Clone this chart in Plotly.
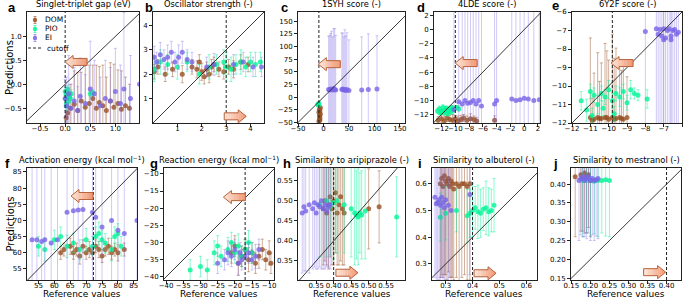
import plotly.graph_objects as go

# ---------------- data ----------------
TITLES = ["Singlet-triplet gap (eV)", "Oscillator strength (-)", "1SYH score (-)", "4LDE score (-)",
          "6Y2F score (-)", "Activation energy (kcal mol<sup>−1</sup>)", "Reaction energy (kcal mol<sup>−1</sup>)",
          "Similarity to aripiprazole (-)", "Similarity to albuterol (-)", "Similarity to mestranol (-)"]
LETTERS = ["a", "b", "c", "d", "e", "f", "g", "h", "i", "j"]
CUTOFFS = [0.0, 3.0, -9.0, -10.0, -9.8, 72.3, -17.0, 0.40, 0.40, 0.40]
SERIES = ["DOM", "PIO", "EI"]

# a
A_DOM_X = [0.02, 0.05, 0.1, 0.18, 0.25, 0.32, 0.4, 0.48, 0.55, 0.62, 0.68, 0.75, 0.82, 0.9, 0.97, 1.05, 1.12, 1.2, 1.28]
A_DOM_Y = [-0.7, -0.6, -0.5, -0.42, -0.55, -0.35, -0.48, -0.4, -0.3, -0.5, -0.38, -0.45, -0.55, -0.35, -0.48, -0.4, -0.52, -0.45, -0.5]
A_DOM_E = [0.15, 0.3, 0.5, 0.7, 0.8, 0.6, 0.9, 0.8, 0.7, 0.9, 0.75, 0.85, 0.7, 0.8, 0.9, 0.7, 0.8, 0.6, 0.5]
A_PIO_X = [0.0, 0.01, 0.02, 0.03, 0.04, 0.05, 0.06, 0.08, 0.1, 0.12, 0.02, 0.05, 0.5, 0.55]
A_PIO_Y = [-0.15, -0.3, -0.22, -0.4, -0.28, -0.18, -0.35, -0.25, -0.3, -0.2, -0.45, -0.1, -0.2, -0.18]
A_PIO_E = [0.08, 0.1, 0.08, 0.1, 0.09, 0.08, 0.1, 0.08, 0.09, 0.08, 0.1, 0.08, 0.06, 0.06]
A_EI_X = [0.0, 0.03, 0.07, 0.12, 0.18, 0.25, 0.3, 0.4, 0.5, 0.58, 0.7, 0.8, 0.9, 1.0, 1.1, 1.17, 1.3, 1.48]
A_EI_Y = [-0.3, -0.45, -0.2, -0.5, -0.35, -0.55, -0.25, -0.4, -0.1, -0.2, -0.45, -0.3, -0.35, -0.15, -0.4, -0.1, -0.3, 0.0]
A_EI_E = [0.4, 0.6, 0.8, 0.5, 0.7, 0.5, 0.8, 0.6, 1.0, 0.7, 0.6, 0.8, 0.7, 0.9, 0.8, 1.6, 0.9, 1.3]

# b
B_DOM_X = [0.05, 0.2, 0.5, 0.8, 1.2, 1.6, 1.8, 1.9, 2.0, 2.1, 2.2, 2.3, 2.4, 2.5, 2.7, 2.9, 3.1, 3.3, 3.6, 3.9]
B_DOM_Y = [2.1, 2.3, 2.0, 2.2, 2.0, 2.3, 2.2, 2.5, 2.1, 1.9, 2.2, 2.0, 2.3, 2.4, 2.2, 2.1, 2.3, 2.2, 2.5, 2.4]
B_DOM_E = [0.3, 0.3, 0.3, 0.3, 0.35, 0.3, 0.35, 0.3, 0.35, 0.3, 0.3, 0.35, 0.3, 0.3, 0.3, 0.3, 0.3, 0.35, 0.3, 0.3]
B_PIO_X = [0.05, 0.3, 0.6, 1.0, 1.4, 1.9, 2.3, 2.6, 2.9, 3.0, 3.2, 3.4, 3.6, 3.8, 4.0, 4.2, 4.4]
B_PIO_Y = [2.2, 2.5, 2.4, 2.3, 2.5, 2.0, 2.3, 2.4, 2.5, 2.3, 2.2, 2.4, 2.5, 2.3, 2.5, 2.4, 2.5]
B_PIO_E = [0.5, 0.5, 0.4, 0.5, 0.4, 0.4, 0.5, 0.4, 0.5, 0.6, 0.5, 0.4, 0.5, 0.4, 0.4, 0.5, 0.4]
B_EI_X = [0.05, 0.15, 0.3, 0.45, 0.6, 0.75, 0.9, 1.05, 1.2, 1.4, 1.6, 2.2, 2.5, 3.3, 3.7, 4.1, 4.45]
B_EI_Y = [2.7, 2.5, 2.8, 2.6, 2.7, 2.9, 2.5, 2.7, 2.9, 2.6, 2.5, 2.3, 2.4, 2.4, 2.5, 2.3, 2.3]
B_EI_E = [0.45, 0.4, 0.5, 0.4, 0.5, 0.45, 0.4, 0.5, 0.45, 0.4, 0.4, 0.4, 0.45, 0.4, 0.4, 0.4, 0.4]

# c
C_DOM_X = [-9, -8, -7, -8, -6, -9, -7, -8, -6, -7]
C_DOM_Y = [-48, -44, -40, -36, -33, -30, -27, -24, -21, -45]
C_DOM_E = [3, 3, 3, 3, 4, 3, 3, 4, 4, 3]
C_PIO_X = [-11, -9, -10]
C_PIO_Y = [-14, -12, -16]
C_PIO_E = [2, 2, 2]
C_EI_X = [10, 12, 14, 16, 18, 20, 22, 24, 36, 38, 40, 42, 44, 46, 50, 75, 88, 105]
C_EI_Y = [15, 14, 16, 15, 14, 17, 15, 14, 15, 16, 14, 15, 13, 15, 13, 14, 15, 16]
C_EI_E = [105, 108, 110, 115, 105, 118, 120, 108, 112, 110, 105, 118, 108, 112, 100, 105, 110, 105]

# d
D_DOM_X = [-12.5, -12.0, -11.6, -11.2, -10.8, -10.4, -10.0, -9.6, -9.2, -8.8, -8.3, -7.8, -7.3, -6.9, -4.3]
D_DOM_Y = [-12.8, -12.6, -12.9, -12.5, -12.7, -12.8, -12.6, -12.9, -12.7, -12.5, -12.8, -12.6, -12.7, -12.9, -12.8]
D_DOM_E = [0.5, 0.6, 0.7, 0.5, 0.6, 0.8, 0.5, 0.7, 0.6, 0.5, 0.6, 0.7, 0.5, 0.5, 0.6]
D_PIO_X = [-12.6, -12.3, -12.0, -11.8, -11.5, -11.3, -11.0, -10.8, -10.5, -10.2, -12.2, -11.6, -11.1, -10.6, -9.8, -9.5]
D_PIO_Y = [-11.5, -11.2, -11.6, -11.0, -11.4, -11.1, -11.5, -11.2, -11.0, -11.3, -11.8, -11.7, -11.9, -11.6, -11.0, -11.2]
D_PIO_E = [0.4, 0.4, 0.3, 0.4, 0.4, 0.3, 0.4, 0.4, 0.3, 0.4, 0.3, 0.4, 0.3, 0.4, 0.3, 0.4]
D_EI_X = [-10.2, -9.5, -9.0, -8.6, -8.2, -7.8, -7.4, -7.0, -6.6, -6.2, -4.3, -4.0, -1.8, -1.2, -0.6, 0.0, 0.6, 1.4, 2.2]
D_EI_Y = [-11.3, -10.2, -10.5, -10.0, -10.4, -10.3, -10.0, -10.5, -10.0, -10.8, -10.5, -10.0, -9.8, -10.0, -9.9, -9.7, -9.8, -10.0, -9.9]
D_EI_E = [15, 16, 14, 15, 16, 15, 14, 16, 15, 14, 15, 16, 15, 14, 15, 16, 15, 14, 15]

# e
E_DOM_X = [-11.0, -10.8, -10.6, -10.4, -10.2, -10.0, -9.8, -9.6, -9.4, -9.2, -9.0, -10.9, -10.5, -10.1, -9.7, -9.3]
E_DOM_Y = [-11.7, -11.8, -11.7, -11.75, -11.7, -11.8, -11.7, -11.75, -11.7, -11.8, -11.7, -11.85, -11.75, -11.7, -11.8, -11.75]
E_DOM_E = [4.3, 2.5, 3.5, 3.0, 4.0, 3.2, 4.5, 3.8, 2.8, 3.0, 2.2, 1.2, 2.0, 3.6, 3.3, 2.6]
E_PIO_X = [-11.5, -11.2, -11.0, -10.8, -10.6, -10.4, -10.2, -10.0, -9.8, -9.6, -9.4, -9.2, -9.0, -8.8, -8.6, -8.4, -7.9, -10.9, -10.3, -9.7]
E_PIO_Y = [-10.8, -11.3, -10.3, -10.5, -11.0, -10.4, -10.6, -10.2, -10.8, -10.4, -10.6, -10.3, -10.9, -10.2, -10.4, -10.5, -10.7, -11.6, -11.2, -11.5]
E_PIO_E = [0.5, 0.6, 0.4, 0.4, 0.5, 0.4, 0.4, 0.5, 0.4, 0.4, 0.5, 0.4, 0.4, 0.5, 0.3, 0.3, 0.5, 0.4, 0.4, 0.4]
E_EI_X = [-8.0, -7.4, -7.3, -7.2, -7.1, -7.0, -6.9, -6.8, -6.7, -6.6, -6.5, -6.4, -6.3, -6.2, -7.0, -6.6]
E_EI_Y = [-7.05, -6.9, -7.2, -6.95, -7.3, -6.9, -7.4, -7.0, -6.9, -7.5, -7.0, -6.95, -7.2, -7.1, -7.5, -7.3]
E_EI_E = [6, 6, 6, 6, 6, 6, 6, 6, 6, 6, 6, 6, 6, 6, 6, 6]

# f
F_DOM_X = [62, 63, 65, 66, 67, 68, 69, 70, 71, 72, 73, 74, 75, 76, 77, 78, 79, 80, 82]
F_DOM_Y = [60, 61, 62, 60, 61, 59, 62, 60, 61, 60, 62, 61, 59, 61, 62, 60, 61, 60, 61]
F_DOM_E = [2, 2, 2.5, 2, 2, 2.5, 2, 2, 2.5, 2, 2, 2.5, 2, 2, 2.5, 2, 2, 2.5, 2]
F_PIO_X = [55, 57, 60, 62, 64, 66, 68, 70, 72, 73, 74, 75, 76, 78, 79, 80, 81]
F_PIO_Y = [62, 61, 64, 65, 62, 63, 61, 64, 62, 65, 66, 64, 63, 61, 65, 66, 62]
F_PIO_E = [3, 3.5, 3, 3, 3.5, 3, 3, 3.5, 3, 3, 3.5, 3, 3, 3.5, 3, 3, 3]
F_EI_X = [53, 54.5, 56, 57, 59, 61, 64, 66, 67.5, 69, 72, 73, 75, 78, 80, 82, 86]
F_EI_Y = [64, 64, 63.5, 64, 63, 64, 72.5, 73, 73.2, 73.4, 72.5, 71, 68, 70, 67, 66, 70]
F_EI_E = [30, 30, 30, 30, 30, 30, 30, 30, 30, 30, 30, 30, 30, 30, 30, 30, 30]

# g
G_DOM_X = [-21, -20, -19, -18, -17, -16, -15, -14, -13, -12, -11, -10, -9.5]
G_DOM_Y = [-33, -31, -36, -34, -32, -35, -33, -36, -34, -32, -35, -33, -36]
G_DOM_E = [3, 3, 3.5, 3, 3, 3.5, 3, 3, 3.5, 3, 3, 3.5, 3]
G_PIO_X = [-33, -30, -28, -26, -25, -24, -22, -21, -20, -19, -18, -17, -16, -15]
G_PIO_Y = [-38, -37, -38, -33, -31, -34, -32, -30, -33, -31, -34, -32, -30, -33]
G_PIO_E = [3, 3, 3, 3.5, 3, 3, 3.5, 3, 3, 3.5, 3, 3, 3.5, 3]
G_EI_X = [-25, -23, -22, -21, -20, -19, -18.5, -18, -17, -16, -15, -14, -13]
G_EI_Y = [-36, -35, -33, -34, -32, -36, -33, -35, -34, -33, -35, -34, -32]
G_EI_E = [3, 3, 3.5, 3, 3, 3.5, 3, 3, 3.5, 3, 3, 3.5, 3]

# h
H_DOM_X = [0.37, 0.375, 0.38, 0.385, 0.39, 0.395, 0.40, 0.405, 0.41, 0.415, 0.42, 0.425, 0.43, 0.50, 0.53]
H_DOM_Y = [0.48, 0.5, 0.47, 0.49, 0.51, 0.48, 0.5, 0.52, 0.47, 0.49, 0.51, 0.48, 0.47, 0.48, 0.485]
H_DOM_E = [0.14, 0.15, 0.13, 0.16, 0.15, 0.14, 0.16, 0.15, 0.13, 0.15, 0.16, 0.14, 0.13, 0.1, 0.09]
H_PIO_X = [0.36, 0.38, 0.39, 0.40, 0.41, 0.43, 0.45, 0.46, 0.465, 0.47, 0.475, 0.48, 0.49, 0.58]
H_PIO_Y = [0.49, 0.5, 0.485, 0.495, 0.5, 0.49, 0.48, 0.47, 0.465, 0.46, 0.47, 0.465, 0.475, 0.46]
H_PIO_E = [0.13, 0.14, 0.12, 0.14, 0.13, 0.12, 0.12, 0.13, 0.11, 0.12, 0.1, 0.11, 0.12, 0.1]
H_EI_X = [0.31, 0.315, 0.32, 0.33, 0.34, 0.345, 0.35, 0.355, 0.36, 0.365, 0.37, 0.375, 0.38, 0.385, 0.39]
H_EI_Y = [0.47, 0.485, 0.475, 0.49, 0.48, 0.495, 0.47, 0.49, 0.485, 0.5, 0.48, 0.49, 0.475, 0.485, 0.49]
H_EI_E = [0.15, 0.16, 0.15, 0.17, 0.15, 0.16, 0.14, 0.16, 0.15, 0.17, 0.15, 0.16, 0.14, 0.15, 0.16]

# i
I_DOM_X = [0.28, 0.285, 0.29, 0.295, 0.3, 0.305, 0.31, 0.315, 0.32, 0.325, 0.33, 0.34, 0.35, 0.36, 0.37, 0.38, 0.39]
I_DOM_Y = [0.6, 0.62, 0.59, 0.63, 0.61, 0.6, 0.62, 0.59, 0.61, 0.6, 0.58, 0.6, 0.59, 0.6, 0.6, 0.59, 0.6]
I_DOM_E = [0.35, 0.36, 0.34, 0.37, 0.35, 0.36, 0.35, 0.34, 0.36, 0.35, 0.34, 0.35, 0.36, 0.35, 0.34, 0.35, 0.36]
I_PIO_X = [0.28, 0.3, 0.34, 0.38, 0.39, 0.4, 0.41, 0.42, 0.43, 0.44, 0.45, 0.46, 0.47, 0.48]
I_PIO_Y = [0.475, 0.49, 0.5, 0.48, 0.49, 0.5, 0.51, 0.495, 0.49, 0.505, 0.51, 0.495, 0.5, 0.52]
I_PIO_E = [0.09, 0.1, 0.08, 0.1, 0.09, 0.1, 0.08, 0.1, 0.09, 0.08, 0.1, 0.09, 0.08, 0.1]
I_EI_X = [0.26, 0.265, 0.27, 0.275, 0.28, 0.285, 0.29, 0.295, 0.3, 0.31, 0.32, 0.39]
I_EI_Y = [0.55, 0.525, 0.53, 0.54, 0.52, 0.55, 0.53, 0.51, 0.54, 0.52, 0.5, 0.56]
I_EI_E = [0.3, 0.3, 0.3, 0.3, 0.3, 0.3, 0.3, 0.3, 0.3, 0.3, 0.3, 0.3]

# j
J_DOM_X = [0.16, 0.175, 0.18, 0.185, 0.19, 0.195, 0.2]
J_DOM_Y = [0.42, 0.425, 0.415, 0.43, 0.42, 0.425, 0.41]
J_DOM_E = [0.16, 0.15, 0.14, 0.16, 0.15, 0.14, 0.15]
J_PIO_X = [0.18, 0.19, 0.2, 0.21, 0.22, 0.23, 0.24, 0.25]
J_PIO_Y = [0.41, 0.41, 0.412, 0.408, 0.41, 0.41, 0.412, 0.41]
J_PIO_E = [0.15, 0.14, 0.15, 0.14, 0.15, 0.14, 0.15, 0.15]
J_EI_X = [0.17, 0.175, 0.18, 0.185, 0.19, 0.195, 0.2, 0.205, 0.21, 0.215, 0.22]
J_EI_Y = [0.41, 0.415, 0.42, 0.41, 0.415, 0.42, 0.41, 0.415, 0.41, 0.412, 0.415]
J_EI_E = [0.16, 0.15, 0.16, 0.15, 0.16, 0.15, 0.16, 0.15, 0.16, 0.15, 0.16]

# tick values per panel
XTICKS = [[-0.5, 0.0, 0.5, 1.0], [1, 2, 3, 4], [-50, 0, 50, 100, 150], [-12, -10, -8, -6, -4, -2, 0, 2],
          [-12, -11, -10, -9, -8, -7, -6], [55, 60, 65, 70, 75, 80, 85], [-40, -35, -30, -25, -20, -15, -10],
          [0.35, 0.40, 0.45, 0.50, 0.55], [0.3, 0.4, 0.5, 0.6], [0.15, 0.20, 0.25, 0.30, 0.35, 0.40]]
YTICKS = [[-0.5, 0.0, 0.5, 1.0], [1, 2, 3, 4], [-50, -25, 0, 25, 50, 75, 100, 125, 150],
          [-12, -10, -8, -6, -4, -2, 0, 2], [-12, -11, -10, -9, -8, -7, -6], [55, 60, 65, 70, 75, 80, 85],
          [-40, -35, -30, -25, -20, -15, -10], [0.35, 0.40, 0.45, 0.50, 0.55], [0.3, 0.4, 0.5, 0.6],
          [0.15, 0.20, 0.25, 0.30, 0.35, 0.40]]
TICKFMT = [".1f", "d", "d", "d", "d", "d", "d", ".2f", ".1f", ".2f"]

# ---------------- layout constants ----------------
W, H = 685, 298
BOX = [(27, 139, 12, 123), (153, 264, 12, 123), (298, 405, 12, 123), (434, 540, 12, 123), (572, 682, 12, 123),
       (27, 137, 168, 280), (164, 274, 168, 280), (298, 405, 168, 280), (432, 537, 168, 280), (571, 681, 168, 280)]
XR = [(-0.76, 1.47), (0, 4.55), (-50, 160), (-13.1, 2.3), (-12, -6), (51.4, 86), (-40.6, -8.6),
      (0.298, 0.604), (0.249, 0.640), (0.149, 0.438)]
YR = [(-0.81, 1.51), (0, 4.55), (-51, 168), (-13.2, 2.5), (-12, -6), (51.6, 86.2), (-40.9, -8.3),
      (0.3025, 0.582), (0.240, 0.659), (0.145, 0.443)]
# arrows: (tip x domain, y domain, direction -1 = points left, 1 = points right)
ARROWS = [(0.34, 0.55, -1), (0.84, 0.06, 1), (0.19, 0.53, -1), (0.20, 0.54, -1), (0.355, 0.54, -1),
          (0.40, 0.75, -1), (0.54, 0.74, -1), (0.56, 0.065, 1), (0.61, 0.06, 1), (0.86, 0.07, 1)]
LETTER_POS = [(12, 7), (149, 7), (284, 7), (421, 7), (555, 6), (8, 163), (154, 163), (287, 163), (420, 163), (555, 163)]

COLORS = {"DOM": "rgba(150,80,35,{a})", "PIO": "rgba(0,245,150,{a})", "EI": "rgba(120,100,230,{a})"}
ERR_ALPHA = {"DOM": 0.45, "PIO": 0.45, "EI": 0.35}

DATA = {}
for L in LETTERS:
    U = L.upper()
    for s in SERIES:
        DATA[(L, s)] = (globals()[f"{U}_{s}_X"], globals()[f"{U}_{s}_Y"], globals()[f"{U}_{s}_E"])

FONT = "DejaVu Sans"
fig = go.Figure()
layout = dict(template="none", width=W, height=H, margin=dict(l=0, r=0, t=0, b=0, autoexpand=False),
              plot_bgcolor="white", paper_bgcolor="white", showlegend=False,
              font=dict(family=FONT, color="black"))
shapes, annotations = [], []

for i, L in enumerate(LETTERS):
    n = "" if i == 0 else str(i + 1)
    xa, ya = "x" + n, "y" + n
    l, r, t, b = BOX[i]
    common = dict(showline=True, mirror=True, linecolor="#222", linewidth=1, ticks="outside", ticklen=3,
                  tickwidth=0.8, tickcolor="#222", showgrid=False, zeroline=False, tickangle=0,
                  automargin=False, tickfont=dict(size=7, family=FONT, color="black"))
    layout["xaxis" + n] = dict(common, domain=[l / W, r / W], range=list(XR[i]), anchor=ya,
                               tickvals=XTICKS[i], tickformat=TICKFMT[i], ticklabelstandoff=-4)
    layout["yaxis" + n] = dict(common, domain=[1 - b / H, 1 - t / H], range=list(YR[i]), anchor=xa,
                               tickvals=YTICKS[i], tickformat=TICKFMT[i])
    for s in SERIES:
        x, y, e = DATA[(L, s)]
        fig.add_trace(go.Scatter(
            x=x, y=y, mode="markers", xaxis=xa, yaxis=ya, name=s,
            marker=dict(size=5, color=COLORS[s].format(a=0.8), line=dict(width=0)),
            error_y=dict(type="data", array=e, visible=True, color=COLORS[s].format(a=ERR_ALPHA[s]),
                         thickness=1, width=1.5)))
    lo = min(XR[i][0], YR[i][0]); hi = max(XR[i][1], YR[i][1])
    fig.add_trace(go.Scatter(x=[lo, hi], y=[lo, hi], mode="lines", xaxis=xa, yaxis=ya,
                             line=dict(color="#222", width=0.9), hoverinfo="skip"))
    # cutoff
    shapes.append(dict(type="line", xref=xa, yref=ya + " domain", x0=CUTOFFS[i], x1=CUTOFFS[i], y0=0, y1=1,
                       line=dict(color="#222", width=1, dash="3px,2px")))
    # arrow (gradient made of slices, screen-left light -> screen-right darker)
    pw, ph = r - l, b - t
    tx, ty, d = ARROWS[i]
    Lp, HL, BH, HH = 22.0, 8.0, 3.5, 6.5

    def pt(px, py):
        return tx - d * px / pw, ty + py / ph
    leftx = min(tx, tx - d * Lp / pw)
    cuts = [0, 2, 4, 6, 8, 10.5, 13, 15.5, 18, 20, 22]
    c0, c1 = (253, 232, 220), (242, 150, 112)
    for k in range(len(cuts) - 1):
        s0, s1 = cuts[k], cuts[k + 1]
        h0 = HH * s0 / HL if s0 < HL else BH
        h1 = HH * s1 / HL if s1 <= HL else BH
        pts = [pt(s0, h0), pt(s1, h1), pt(s1, -h1), pt(s0, -h0)]
        sx = tx - d * (s0 + s1) / 2 / pw
        f = (sx - leftx) / (Lp / pw)
        col = tuple(int(c0[j] + (c1[j] - c0[j]) * f) for j in range(3))
        path = "M " + " L ".join(f"{p[0]},{p[1]}" for p in pts) + " Z"
        shapes.append(dict(type="path", xref=xa + " domain", yref=ya + " domain", path=path,
                           fillcolor=f"rgb{col}", line=dict(width=0.3, color=f"rgb{col}")))
    outline = [pt(0, 0), pt(HL, HH), pt(HL, BH), pt(Lp, BH), pt(Lp, -BH), pt(HL, -BH), pt(HL, -HH)]
    shapes.append(dict(type="path", xref=xa + " domain", yref=ya + " domain",
                       path="M " + " L ".join(f"{p[0]},{p[1]}" for p in outline) + " Z",
                       line=dict(color="#b8643e", width=1)))
    # title
    annotations.append(dict(text=TITLES[i], xref="paper", yref="paper", x=(l + r) / 2 / W,
                            y=1 - (t - 1) / H, xanchor="center", yanchor="bottom", showarrow=False,
                            font=dict(size=8.3, family=FONT)))
    lx, ly = LETTER_POS[i]
    annotations.append(dict(text=f"<b>{L}</b>", xref="paper", yref="paper", x=lx / W, y=1 - ly / H,
                            xanchor="center", yanchor="middle", showarrow=False,
                            font=dict(size=13, family="Liberation Sans")))
    if i >= 5:
        annotations.append(dict(text="Reference values", xref="paper", yref="paper", x=(l + r) / 2 / W,
                                y=-0.006, xanchor="center", yanchor="bottom", showarrow=False, borderpad=0,
                                font=dict(size=9, family=FONT)))

for (t, b) in [(12, 123), (168, 280)]:
    annotations.append(dict(text="Predictions", xref="paper", yref="paper", x=2 / W, y=1 - (t + b) / 2 / H,
                            xanchor="left", yanchor="middle", textangle=-90, showarrow=False,
                            font=dict(size=10, family=FONT)))

# manual legend in panel a
LEG_Y = [20, 29, 38]
l, r, t, b = BOX[0]
for s, py in zip(SERIES, LEG_Y):
    yd = (b - py) / (b - t)
    xd = (35 - l) / (r - l)
    ec = COLORS[s].format(a=0.6)
    shapes.append(dict(type="line", xref="x domain", yref="y domain", xsizemode="pixel", ysizemode="pixel",
                       xanchor=xd, yanchor=yd, x0=0, x1=0, y0=-3.5, y1=3.5, line=dict(color=ec, width=1)))
    for yy in (-3.5, 3.5):
        shapes.append(dict(type="line", xref="x domain", yref="y domain", xsizemode="pixel", ysizemode="pixel",
                           xanchor=xd, yanchor=yd, x0=-1.5, x1=1.5, y0=yy, y1=yy, line=dict(color=ec, width=1)))
    shapes.append(dict(type="circle", xref="x domain", yref="y domain", xsizemode="pixel", ysizemode="pixel",
                       xanchor=xd, yanchor=yd, x0=-2.2, x1=2.2, y0=-2.2, y1=2.2,
                       fillcolor=COLORS[s].format(a=0.85), line=dict(width=0)))
    annotations.append(dict(text=s, xref="x domain", yref="y domain", x=(43 - l) / (r - l), y=yd,
                            xanchor="left", yanchor="middle", showarrow=False, font=dict(size=7.5, family=FONT)))
yd = (b - 48) / (b - t)
shapes.append(dict(type="line", xref="x domain", yref="y domain", x0=(28 - l) / (r - l), x1=(42 - l) / (r - l),
                   y0=yd, y1=yd, line=dict(color="#222", width=1, dash="3px,2px")))
annotations.append(dict(text="cutoff", xref="x domain", yref="y domain", x=(45 - l) / (r - l), y=yd,
                        xanchor="left", yanchor="middle", showarrow=False, font=dict(size=7.5, family=FONT)))

layout["shapes"] = shapes
layout["annotations"] = annotations
fig.update_layout(**layout)
fig.write_html("out.html", config={"displayModeBar": False},
               post_script="document.body.style.margin='0';document.body.style.overflow='hidden';")
